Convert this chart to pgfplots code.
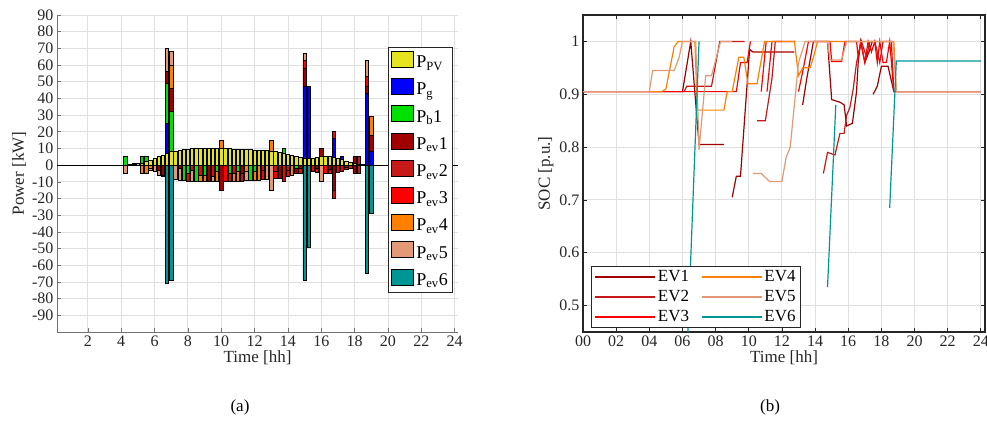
\documentclass[border=0pt]{standalone}
\usepackage{pgfplots}
\usepackage{pgfplotstable}
\usepackage{fontspec}
\setmainfont{Liberation Serif}
\pgfplotsset{compat=1.18}
\definecolor{cpv}{rgb}{0.9,0.9,0.12}
\definecolor{cg}{rgb}{0,0,1}
\definecolor{cb}{rgb}{0,0.88,0}
\definecolor{ce1}{rgb}{0.63,0,0}
\definecolor{ce2}{rgb}{0.78,0.1,0.1}
\definecolor{ce3}{rgb}{1,0,0}
\definecolor{ce4}{rgb}{1,0.5,0}
\definecolor{ce5}{rgb}{0.89,0.6,0.46}
\definecolor{ce6}{rgb}{0,0.59,0.59}
\definecolor{axgray}{rgb}{0.15,0.15,0.15}
\definecolor{gridgray}{rgb}{0.88,0.88,0.88}

\pgfplotstableread{
t     pv   g    b    e1  e2  e3  e4   e5
4.25  0    0    5    0   0   0   0    0
4.5   0.2  0    0    0   0   0   0    0
4.75  0.5  0    0.3  0   0   0   0    0
5.0   0.8  0    0.3  0   0   0   0    0
5.25  1.2  0    4    0   0   0   0    0
5.5   2    0    3    0   0   0   0    0
5.75  3    0    0    0   0   0   0    0
6.0   4    0    0    0   0   0   0    0
6.25  5    0    0    0   0   0   0    0
6.5   6    0    0    0   0   0   0    0
6.75  7    18   24   7   0   0   0    14
7.0   8    0    24   14  0   0   14   8
7.25  8.5  0    0    0   0   0   0    0
7.5   9    0    0    0   0   0   0    0
7.75  9.3  0    0    0   0   0   0    0
8.0   9.6  0    0    0   0   0   0    0
8.25  9.8  0    0    0   0   0   0    0
8.5   10   0    0    0   0   0   0    0
8.75  10   0    0    0   0   0   0    0
9.0   10   0    0    0   0   0   0    0
9.25  10   0    0    0   0   0   0    0
9.5   10   0    0    0   0   0   0    0
9.75  10   0    0    0   0   0   0    0
10.0  10   0    0    0   0   0   5    0
10.25 10   0    0    0   0   0   0    0
10.5  9.8  0    0    0   0   0   0    0
10.75 9.7  0    0    0   0   0   0    0
11.0  9.6  0    0    0   0   0   0    0
11.25 9.5  0    0    0   0   0   0    0
11.5  9.3  0    0    0   0   0   0    0
11.75 9.2  0    0    0   0   0   0    0
12.0  9    0    0    0   0   0   0    0
12.25 9    0    0    0   0   0   0    0
12.5  8.8  0    0    0   0   0   0    0
12.75 8.6  0    0    0   0   0   0    0
13.0  8.4  0    0    0   0   0   6.6  0
13.25 8.2  0    0    0   0   0   0    0
13.5  7.8  0    0    0   0   0   0    0
13.75 7.2  0    2.8  0   0   0   0    0
14.0  6.5  0    0    0   0   0   0    0
14.25 6    0    0    0   0   0   0    0
14.5  5.2  0    0    0   0   0   0    0
14.75 4.8  0    0    0   0   0   0    0
15.0  4.3  42.7 0    11  0   5   0    4
15.25 4    43   0    0   0   0   0    0
15.5  4    0    0    0   0   0   0    0
15.75 4.5  0    0    0   0   0   0    0
16.0  5    0    0    5   0   0   0    0
16.25 5    0    0    0   0   0   0    0
16.5  5    0    0    0   0   0   0    0
16.75 4.8  11   0    0   0   4.5 0    0
17.0  4.3  0    0    0   0   0   0    0
17.25 3.5  1.5  0    0   0   0   0    0
17.5  2.5  0    0    0   0   0   0    0
17.75 1.8  0    0    0   0   0   0    0
18.0  1    0    0    4   0   0   0    0
18.25 0.5  0    0    0   4.5 0   0    0
18.5  0.2  0    0    0   0   0   0    0
18.75 0    43   0    4   0   6   0    10
19.0  0    8    0    10  0   0   11   0
}\postab

\pgfplotstableread{
t     b     e1    e2    e3    e4    e5    e6
4.25  0     0     0     0     0     -5    0
5.25  0     0     0     0     -5    0     0
5.5   0     0     0     0     -5    0     0
5.75  0     0     0     0     -2    -1    0
6.0   0     0     0     0     0     -4    0
6.25  0     -3    0     0     0     -3    0
6.5   0     -6    0     0     0     -1    0
6.75  0     0     0     0     0     0     -71
7.0   0     0     0     0     0     0     -69
7.25  0     0     0     0     0     -8.5  0
7.5   0     -2    0     0     0     -7    0
7.75  -9.3  0     0     0     0     0     0
8.0   -5    0     0     -4.6  0     0     0
8.25  0     0     -3    0     0     -6.8  0
8.5   -10   0     0     0     0     0     0
8.75  0     0     0     -6    -4    0     0
9.0   -6    0     0     0     -4    0     0
9.25  0     -10   0     0     0     0     0
9.5   0     0     0     -7    0     -3    0
9.75  -4    0     0     0     -6    0     0
10.0  0     -15   0     0     0     0     0
10.25 0     0     0     -10   0     0     0
10.5  -5    0     -4.8  0     0     0     0
10.75 0     0     0     -5    -4.7  0     0
11.0  -4    0     0     0     -5.6  0     0
11.25 0     -5    -4.5  0     0     0     0
11.5  0     0     0     0     -4    -5.3  0
11.75 -9.2  0     0     0     0     0     0
12.0  -4    0     0     0     -5    0     0
12.25 0     0     0     0     -9    0     0
12.5  0     0     -3    -5.8  0     0     0
12.75 0     0     0     0     0     -8.6  0
13.0  0     0     0     0     0     -15   0
13.25 0     0     -4    -4.2  0     0     0
13.5  0     -7.8  0     0     0     0     0
13.75 0     0     0     -10   0     0     0
14.0  0     0     -3    -3.5  0     0     0
14.25 0     0     0     0     -6    0     0
14.5  -2    -3.2  0     0     0     0     0
14.75 0     -2    0     -2.8  0     0     0
15.0  0     0     0     0     0     0     -69
15.25 0     0     0     0     0     0     -49
15.5  0     0     0     -4    0     0     0
15.75 0     -2    0     -2.5  0     0     0
16.0  0     0     0     0     0     -10   0
16.25 0     0     0     -5    0     0     0
16.5  0     -2.5  0     -2.5  0     0     0
16.75 0     -15   0     -5    0     0     0
17.0  0     0     0     -4.3  0     0     0
17.25 0     0     0     -3.5  0     0     0
17.5  0     -1.5  0     -1    0     0     0
17.75 0     0     -1.8  0     0     0     0
18.0  0     -5    0     0     0     0     0
18.25 0     0     -5    0     0     0     0
18.75 0     0     0     0     0     0     -65
19.0  0     0     0     0     0     0     -29
}\negtab

\pgfplotsset{
  mybar/.style={fill=#1, draw=black, line width=0.7pt,
    legend image code/.code={\draw[fill=#1,draw=black,line width=1pt] (0pt,-5pt) rectangle (22pt,11pt);}},
  panela/.style={scale only axis, width=401pt, height=317pt,
    at={(57pt,-332pt)}, anchor=south west,
    xmin=0.15, xmax=24.2, ymin=-100, ymax=90, enlargelimits=false,
    ybar stacked, bar width=0.2},
}

\begin{document}
\begin{tikzpicture}
\useasboundingbox (0pt,0pt) rectangle (987pt,-421pt);

% ---------- panel (a): positive parts ----------
\begin{axis}[panela,
  axis lines*=left,
  axis line style={draw=black!55, line width=0.8pt},
  xtick={2,4,...,24}, ytick={-90,-80,...,90},
  tick style={draw=black!55, line width=0.6pt},
  grid=major, grid style={gridgray, line width=0.8pt},
  /pgf/number format/assume math mode=true,
  tick label style={font=\fontsize{16}{18}\selectfont, text=axgray},
  label style={font=\fontsize{17}{19}\selectfont, text=axgray},
  xlabel={Time [hh]}, ylabel={Power [kW]},
  xlabel style={yshift=3pt}, ylabel style={yshift=-1pt},
]
\addplot[mybar=cpv] table[x=t,y=pv] {\postab};
\addplot[mybar=cg]  table[x=t,y=g]  {\postab};
\addplot[mybar=cb]  table[x=t,y=b]  {\postab};
\addplot[mybar=ce1] table[x=t,y=e1] {\postab};
\addplot[mybar=ce2] table[x=t,y=e2] {\postab};
\addplot[mybar=ce3] table[x=t,y=e3] {\postab};
\addplot[mybar=ce4] table[x=t,y=e4] {\postab};
\addplot[mybar=ce5] table[x=t,y=e5] {\postab};
\end{axis}

% ---------- panel (a): negative parts + legend ----------
\begin{axis}[panela, hide axis,
  legend style={at={(0.988,0.9)}, anchor=north east, draw=axgray, line width=0.8pt,
    fill=white, font=\fontsize{18}{20}\selectfont, row sep=7pt, inner xsep=3pt, inner ysep=4pt},
  legend cell align=left,
]
\addlegendimage{mybar=cpv}
\addlegendentry{P\textsubscript{PV}}
\addlegendimage{mybar=cg}
\addlegendentry{P\textsubscript{g}}
\addplot[mybar=cb]  table[x=t,y=b]  {\negtab}; \addlegendentry{P\textsubscript{b}1}
\addplot[mybar=ce1] table[x=t,y=e1] {\negtab}; \addlegendentry{P\textsubscript{ev}1}
\addplot[mybar=ce2] table[x=t,y=e2] {\negtab}; \addlegendentry{P\textsubscript{ev}2}
\addplot[mybar=ce3] table[x=t,y=e3] {\negtab}; \addlegendentry{P\textsubscript{ev}3}
\addplot[mybar=ce4] table[x=t,y=e4] {\negtab}; \addlegendentry{P\textsubscript{ev}4}
\addplot[mybar=ce5] table[x=t,y=e5] {\negtab}; \addlegendentry{P\textsubscript{ev}5}
\addplot[mybar=ce6] table[x=t,y=e6] {\negtab}; \addlegendentry{P\textsubscript{ev}6}
\draw[black, line width=1.3pt] (axis cs:0.15,0) -- (axis cs:24.2,0);
\end{axis}

% ---------- panel (b) ----------
\begin{axis}[scale only axis, width=402pt, height=317pt,
  at={(583pt,-332pt)}, anchor=south west,
  xmin=0, xmax=24.25, ymin=0.45, ymax=1.05, enlargelimits=false,
  xtick={0,2,...,24},
  xticklabels={00,02,04,06,08,10,12,14,16,18,20,22,24},
  ytick={0.5,0.6,0.7,0.8,0.9,1},
  yticklabels={0.5,0.6,0.7,0.8,0.9,1},
  axis line style={draw=axgray, line width=1.1pt},
  tick style={draw=axgray, line width=0.8pt},
  grid=major, grid style={gridgray, line width=0.9pt},
  tick label style={font=\fontsize{16}{18}\selectfont, text=axgray},
  label style={font=\fontsize{17}{19}\selectfont, text=axgray},
  xlabel={Time [hh]}, ylabel={SOC [p.u.]},
  xlabel style={yshift=3pt}, ylabel style={yshift=-1pt},
  unbounded coords=jump,
  every axis plot/.append style={line width=1.2pt},
  legend columns=2,
  legend style={at={(0.02,0.012)}, anchor=south west, draw=axgray, line width=0.9pt,
    fill=white, font=\fontsize{17}{19}\selectfont, inner xsep=3pt, inner ysep=2.5pt, row sep=3.2pt,
    /tikz/every even column/.append style={column sep=10pt}},
  legend cell align=left,
  legend image code/.code={\draw[#1, line width=1.4pt] (0pt,0pt) -- (60pt,0pt);},
]
\addplot[ce1, forget plot] coordinates {
(0,0.905) (6.0,0.905) (6.5,1.0) (7.0,0.805) (8.5,0.805) (8.75,nan)
(9.0,0.705) (9.25,0.745) (9.5,0.745) (10.05,0.985) (10.25,0.98) (12.75,0.98) (13.0,nan)
(13.25,0.88) (13.5,0.93) (13.9,1.0) (14.75,1.0) (15.0,0.89) (15.5,0.885) (15.75,0.88)
(15.9,0.84) (16.25,0.845) (16.5,0.905) (16.6,0.96) (16.75,1.0) (17.0,0.96) (17.25,0.98) (17.45,1.0) (17.5,nan)
(17.5,0.9) (17.75,0.915) (18.0,0.953) (18.4,0.953) (18.75,0.905) (24,0.905)};
\addplot[ce2, forget plot] coordinates {
(0,0.905) (6.1,0.905) (6.25,0.915) (7.75,0.915) (8.25,1.0) (9.75,1.0) (10.0,nan)
(10.5,0.85) (11.0,0.85) (11.4,0.93) (11.6,1.0) (12.0,1.0) (12.2,nan)
(14.5,0.75) (14.75,0.79) (15.2,0.785) (15.5,0.826) (15.75,0.826) (15.9,0.86) (16.1,0.875)
(16.3,0.91) (16.5,0.96) (16.8,1.0) (17.1,0.97) (17.3,1.0) (17.6,1.0) (17.9,0.96) (18.1,1.0)
(18.6,1.0) (18.75,0.905) (24,0.905)};
\addplot[ce3, forget plot] coordinates {
(0,0.905) (9.25,0.905) (9.5,0.96) (9.9,0.96) (10.1,1.0) (10.3,nan)
(10.75,0.905) (11.05,1.0) (11.1,nan)
(11.1,0.905) (11.4,1.0) (12.8,1.0) (12.9,nan)
(13.0,0.905) (13.3,0.95) (13.6,1.0) (14.9,1.0) (15.0,0.962) (15.6,0.962) (15.8,1.0) (16.5,1.0)
(16.6,0.97) (16.75,1.0) (17.0,0.96) (17.2,1.0) (17.4,0.98) (17.6,1.0) (17.75,0.96) (17.9,1.0)
(18.1,0.96) (18.3,0.96) (18.5,1.0) (18.75,0.905) (24,0.905)};
\addplot[ce4, forget plot] coordinates {
(0,0.905) (4.75,0.905) (5.0,0.91) (5.5,0.99) (5.75,1.0) (6.75,1.0) (6.9,0.87) (8.5,0.87)
(8.7,0.905) (9.0,0.905) (9.4,0.97) (9.7,0.97) (9.95,0.92) (10.5,0.92) (10.95,1.0) (12.75,1.0)
(13.0,0.935) (13.25,0.95) (13.7,0.95) (13.9,0.97) (14.15,1.0) (18.75,1.0) (18.9,0.905) (24,0.905)};
\addplot[ce5, forget plot] coordinates {
(0,0.905) (4.0,0.905) (4.2,0.945) (5.5,0.945) (5.8,0.97) (6.0,1.0) (6.8,1.0) (7.0,0.795)
(7.4,0.935) (7.75,0.935) (8.3,1.0) (9.0,1.0) (9.5,nan)
(10.25,0.75) (10.75,0.75) (11.25,0.735) (12.0,0.735) (12.25,0.78) (12.5,0.8) (12.75,0.88)
(13.0,0.96) (13.4,1.0) (14.75,1.0) (14.9,0.965) (15.6,0.965) (15.9,1.0) (18.7,1.0)
(18.9,0.905) (24,0.905)};
\addplot[ce6, forget plot] coordinates {
(6.33,0.45) (7.0,1.0) (7.1,nan)
(14.75,0.535) (15.25,0.88) (15.3,nan)
(18.5,0.685) (18.9,0.963) (24,0.963)};
\addlegendimage{ce1}\addlegendentry{EV1}
\addlegendimage{ce4}\addlegendentry{EV4}
\addlegendimage{ce2}\addlegendentry{EV2}
\addlegendimage{ce5}\addlegendentry{EV5}
\addlegendimage{ce3}\addlegendentry{EV3}
\addlegendimage{ce6}\addlegendentry{EV6}
\end{axis}

\node[font=\fontsize{17}{19}\selectfont] at (240pt,-407pt) {(a)};
\node[font=\fontsize{17}{19}\selectfont] at (770pt,-407pt) {(b)};
\end{tikzpicture}
\end{document}
